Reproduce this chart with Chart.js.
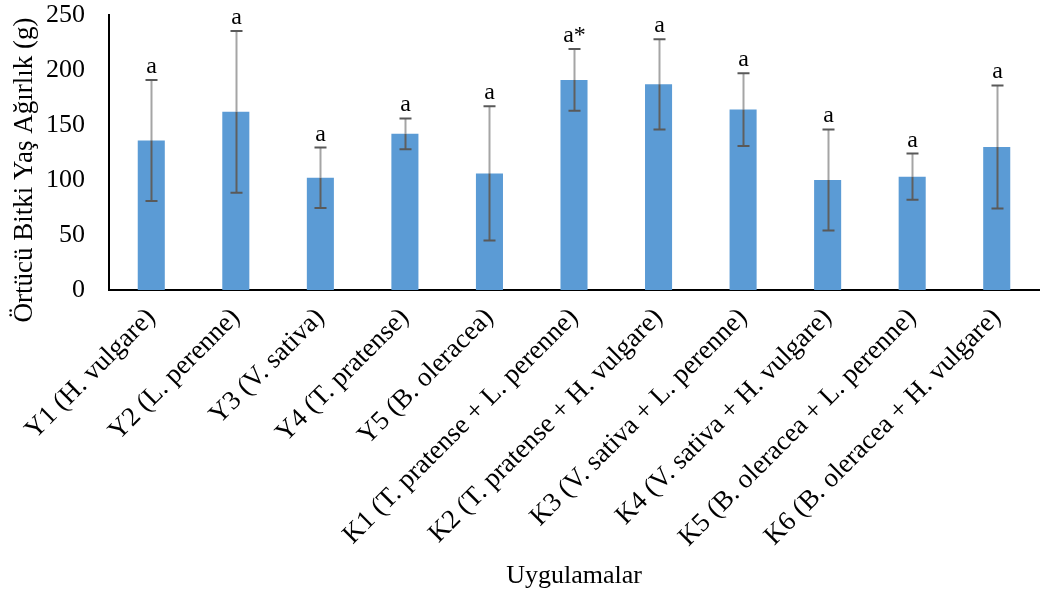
<!DOCTYPE html>
<html>
<head>
<meta charset="utf-8">
<script src="https://cdn.jsdelivr.net/npm/chart.js@4.4.1/dist/chart.umd.min.js"></script>
<style>
html,body{margin:0;padding:0;background:#fff;}
#wrap{width:1041px;height:602px;position:relative;}
</style>
</head>
<body>
<div id="wrap"><canvas id="c" width="1041" height="602"></canvas></div>
<script>
const categories = [
  "Y1 (H. vulgare)",
  "Y2 (L. perenne)",
  "Y3 (V. sativa)",
  "Y4 (T. pratense)",
  "Y5 (B. oleracea)",
  "K1 (T. pratense + L. perenne)",
  "K2 (T. pratense + H. vulgare)",
  "K3 (V. sativa + L. perenne)",
  "K4 (V. sativa + H. vulgare)",
  "K5 (B. oleracea + L. perenne)",
  "K6 (B. oleracea + H. vulgare)"
];
const meanValues = [136, 162, 102, 142, 106, 191, 187, 164, 100, 103, 130];
const errorValues = [55, 73.5, 27.5, 14, 61, 28, 41, 33, 46, 21, 56];
const groupLetters = ["a", "a", "a", "a", "a", "a*", "a", "a", "a", "a", "a"];
const yTicks = [0, 50, 100, 150, 200, 250];
const yTitle = "Örtücü Bitki Yaş Ağırlık (g)";
const xTitle = "Uygulamalar";

const FONT = "'Liberation Serif', 'Times New Roman', serif";

const errorBarPlugin = {
  id: 'errorBars',
  afterDatasetsDraw(chart) {
    const ctx = chart.ctx;
    const y = chart.scales.y;
    const meta = chart.getDatasetMeta(0);
    ctx.save();
    meta.data.forEach((bar, i) => {
      const x = Math.round(bar.x) + 0.5;
      const v = meanValues[i], e = errorValues[i];
      const yTop = y.getPixelForValue(v + e);
      const yBar = y.getPixelForValue(v);
      const yBot = y.getPixelForValue(v - e);
      ctx.lineWidth = 2;
      ctx.strokeStyle = '#a5a5a5';
      ctx.beginPath(); ctx.moveTo(x, yTop); ctx.lineTo(x, yBar); ctx.stroke();
      ctx.strokeStyle = '#5f5f5f';
      ctx.beginPath(); ctx.moveTo(x, yBar); ctx.lineTo(x, yBot); ctx.stroke();
      ctx.strokeStyle = '#595959';
      ctx.beginPath();
      ctx.moveTo(x - 6, yTop); ctx.lineTo(x + 6, yTop);
      ctx.moveTo(x - 6, yBot); ctx.lineTo(x + 6, yBot);
      ctx.stroke();
      ctx.fillStyle = '#000';
      ctx.font = "24px " + FONT;
      ctx.textAlign = 'center';
      ctx.textBaseline = 'alphabetic';
      ctx.fillText(groupLetters[i], x, yTop - 7);
    });
    ctx.restore();
  },
  afterDraw(chart) {
    const ctx = chart.ctx;
    ctx.save();
    ctx.translate(25, 170);
    ctx.rotate(-Math.PI / 2);
    ctx.font = "27px " + FONT;
    ctx.fillStyle = '#000';
    ctx.textAlign = 'center';
    ctx.textBaseline = 'middle';
    ctx.fillText(yTitle, 0, 0);
    ctx.restore();
  }
};

new Chart(document.getElementById('c'), {
  type: 'bar',
  data: {
    labels: categories,
    datasets: [{
      data: meanValues,
      backgroundColor: '#5B9BD5',
      borderWidth: 0,
      barPercentage: 0.32,
      categoryPercentage: 1.0
    }]
  },
  options: {
    responsive: false,
    animation: false,
    devicePixelRatio: 1,
    layout: { padding: { top: 15, right: 2, left: 0, bottom: 0 } },
    plugins: {
      legend: { display: false },
      tooltip: { enabled: false }
    },
    scales: {
      x: {
        offset: true,
        grid: { display: false, drawTicks: false },
        border: { display: true, color: '#000', width: 2 },
        ticks: {
          color: '#000',
          font: { family: FONT, size: 27 },
          minRotation: 45,
          maxRotation: 45,
          autoSkip: false,
          padding: 12
        },
        title: {
          display: true,
          text: xTitle,
          color: '#000',
          font: { family: FONT, size: 26 },
          padding: { top: 0, bottom: 10 }
        },
        afterFit(scale) { scale.height = 312; }
      },
      y: {
        min: 0,
        max: 250,
        grid: { display: false, drawTicks: false },
        border: { display: true, color: '#000', width: 2 },
        afterBuildTicks(scale) { scale.ticks = yTicks.map(v => ({ value: v })); },
        ticks: {
          color: '#000',
          font: { family: FONT, size: 26 },
          padding: 24
        },
        afterFit(scale) {
          scale.width = 109;
          scale.paddingTop = 0;
          scale.paddingBottom = 0;
        }
      }
    }
  },
  plugins: [errorBarPlugin]
});
</script>
</body>
</html>
